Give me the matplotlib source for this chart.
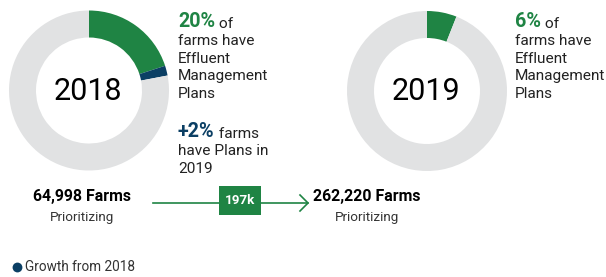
import numpy as np
import matplotlib.pyplot as plt

# colours
green = "#1f8444"
navy = "#0b3f64"
grey = "#e1e2e3"
dark = "#222222"

# data
years = ["2018", "2019"]
plans_pct = [20, 6]
growth_pct = [2, 0]
farms = ["64,998 Farms", "262,220 Farms"]
growth_label = "197k"

plt.rcParams['font.family'] = ['Roboto', 'DejaVu Sans']

fig = plt.figure(figsize=(6.06, 2.77), dpi=100)
ax = fig.add_axes([0, 0, 1, 1])
ax.set_xlim(0, 606)
ax.set_ylim(0, 277)
ax.set_aspect('equal')
ax.axis('off')

H = 277
centers = [(89, H - 90.5), (427, H - 91)]
radius = 80

for i in range(2):
    vals = [plans_pct[i], growth_pct[i], 100 - plans_pct[i] - growth_pct[i]]
    ax.pie(vals, colors=[green, navy, grey], startangle=90, counterclock=False,
           center=centers[i], radius=radius,
           wedgeprops=dict(width=27, linewidth=0))
    ax.text(centers[i][0] - 1, centers[i][1] - 1, years[i], fontsize=22,
            ha='center', va='center', color='black')

ax.set_xlim(0, 606)
ax.set_ylim(0, 277)

body = 11.1
big = 14.2
lines = ["farms have", "Effluent", "Management", "Plans"]
for xs, pct in [(178, "20%"), (515, "6%")]:
    t = ax.text(xs, H - 27, pct, fontsize=big, fontweight='bold',
                color=green, va='baseline')
    ax.annotate(" of", xy=(1, 0), xycoords=t, fontsize=body, color=dark,
                va='bottom', ha='left')
    for k, ln in enumerate(lines):
        ax.text(xs, H - (45 + k * 17.7), ln, fontsize=body, color=dark,
                va='baseline')

t = ax.text(178, H - 137, "+2%", fontsize=big, fontweight='bold',
            color=navy, va='baseline')
ax.annotate(" farms", xy=(1, 0), xycoords=t, fontsize=body, color=dark,
            va='bottom', ha='left')
ax.text(178, H - 155, "have Plans in", fontsize=body, color=dark, va='baseline')
ax.text(178, H - 173, "2019", fontsize=body, color=dark, va='baseline')

# farm counts
for xc, f in [(82, farms[0]), (367, farms[1])]:
    ax.text(xc, H - 196, f, fontsize=11.4, fontweight='bold', color='black',
            ha='center', va='center')
    ax.text(xc, H - 217, "Prioritizing", fontsize=9.7, color='#333333',
            ha='center', va='center')

# arrow
ax.plot([153, 308], [H - 203, H - 203], color=green, lw=1.2)
ax.plot([300, 308, 300], [H - 195, H - 203, H - 211], color=green, lw=1.2)
ax.add_patch(plt.Rectangle((219, H - 215), 42, 29, color=green, lw=0))
ax.text(240, H - 200.5, growth_label, fontsize=9.6, fontweight='bold',
        color='white', ha='center', va='center')

# legend
ax.scatter([17], [H - 267], s=50, color=navy, lw=0)
ax.text(25, H - 267, "Growth from 2018", fontsize=9.8, color='#333333',
        va='center', ha='left')

fig.savefig("out.png", dpi=100)
